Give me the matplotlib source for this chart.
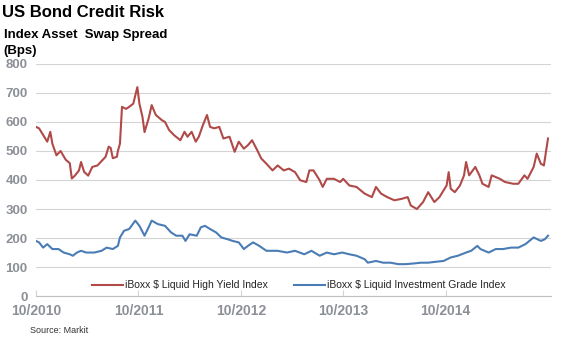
import matplotlib
matplotlib.use('Agg')
import matplotlib.pyplot as plt

plt.rcParams['font.family'] = ['Liberation Sans', 'DejaVu Sans']

# iBoxx $ Liquid High Yield Index, asset swap spread (bps), x in decimal years
hy_year = [2010.75, 2010.78, 2010.82, 2010.86, 2010.89, 2010.91, 2010.95, 2010.99, 2011.04, 2011.08,
           2011.10, 2011.13, 2011.17, 2011.19, 2011.22, 2011.26, 2011.30, 2011.35, 2011.43, 2011.46,
           2011.48, 2011.50, 2011.54, 2011.55, 2011.57, 2011.59, 2011.63, 2011.66, 2011.70, 2011.74,
           2011.76, 2011.79, 2011.81, 2011.85, 2011.88, 2011.92, 2011.98, 2012.01, 2012.05, 2012.10,
           2012.16, 2012.20, 2012.23, 2012.27, 2012.31, 2012.34, 2012.38, 2012.42, 2012.45, 2012.49,
           2012.54, 2012.58, 2012.64, 2012.69, 2012.73, 2012.78, 2012.82, 2012.86, 2012.91, 2012.95,
           2013.00, 2013.06, 2013.11, 2013.17, 2013.22, 2013.28, 2013.33, 2013.39, 2013.42, 2013.46,
           2013.52, 2013.55, 2013.59, 2013.66, 2013.72, 2013.75, 2013.81, 2013.88, 2013.96, 2014.03,
           2014.07, 2014.12, 2014.18, 2014.25, 2014.32, 2014.38, 2014.41, 2014.47, 2014.53, 2014.58,
           2014.64, 2014.69, 2014.73, 2014.76, 2014.78, 2014.80, 2014.84, 2014.89, 2014.93, 2014.95,
           2014.98, 2015.04, 2015.08, 2015.11, 2015.17, 2015.20, 2015.28, 2015.33, 2015.41, 2015.46,
           2015.52, 2015.55, 2015.61, 2015.64, 2015.68, 2015.71, 2015.73, 2015.75]
hy_bps = [583, 578, 555, 532, 566, 525, 485, 500, 470, 458,
          405, 415, 433, 462, 428, 415, 445, 450, 480, 515,
          510, 475, 480, 500, 525, 652, 645, 652, 663, 720,
          663, 617, 565, 612, 658, 624, 606, 600, 572, 554,
          537, 566, 549, 566, 532, 549, 589, 624, 583, 578,
          583, 543, 549, 497, 532, 508, 520, 537, 503, 474,
          456, 433, 450, 433, 439, 427, 399, 393, 433, 433,
          399, 376, 404, 404, 393, 404, 381, 376, 353, 341,
          376, 353, 341, 330, 335, 341, 312, 300, 324, 358,
          324, 341, 364, 381, 427, 370, 358, 381, 416, 462,
          416, 445, 416, 387, 376, 416, 404, 393, 387, 387,
          416, 404, 445, 491, 456, 450, 497, 543]

# iBoxx $ Liquid Investment Grade Index
ig_year = [2010.75, 2010.78, 2010.82, 2010.86, 2010.91, 2010.97, 2011.02, 2011.08, 2011.11, 2011.15,
           2011.19, 2011.24, 2011.32, 2011.39, 2011.44, 2011.50, 2011.55, 2011.57, 2011.61, 2011.66,
           2011.72, 2011.76, 2011.81, 2011.85, 2011.88, 2011.94, 2012.01, 2012.07, 2012.12, 2012.18,
           2012.21, 2012.25, 2012.32, 2012.36, 2012.40, 2012.45, 2012.51, 2012.56, 2012.62, 2012.67,
           2012.73, 2012.78, 2012.82, 2012.87, 2012.93, 2013.00, 2013.11, 2013.20, 2013.28, 2013.37,
           2013.44, 2013.52, 2013.59, 2013.66, 2013.74, 2013.81, 2013.88, 2013.96, 2013.99, 2014.07,
           2014.14, 2014.21, 2014.29, 2014.36, 2014.43, 2014.51, 2014.58, 2014.65, 2014.73, 2014.80,
           2014.87, 2014.95, 2015.00, 2015.06, 2015.09, 2015.17, 2015.24, 2015.31, 2015.39, 2015.46,
           2015.53, 2015.61, 2015.68, 2015.72, 2015.75]
ig_bps = [190, 185, 167, 179, 162, 162, 150, 144, 139, 150,
          156, 150, 150, 156, 167, 162, 173, 202, 225, 231,
          260, 242, 208, 237, 260, 248, 242, 219, 208, 208,
          190, 213, 208, 237, 242, 231, 219, 202, 196, 190,
          185, 162, 173, 185, 173, 156, 156, 150, 156, 144,
          156, 139, 150, 144, 150, 144, 139, 127, 115, 121,
          115, 115, 110, 110, 112, 115, 115, 118, 121, 133,
          139, 150, 156, 173, 162, 150, 162, 162, 167, 167,
          179, 202, 190, 196, 208]

tick_pos = [2010.75, 2011.75, 2012.75, 2013.75, 2014.75]
tick_labels = ['10/2010', '10/2011', '10/2012', '10/2013', '10/2014']

fig = plt.figure(figsize=(5.86, 3.55), dpi=100)
ax = fig.add_axes([0.0614, 0.166, 0.879, 0.654])

ax.plot(hy_year, hy_bps, color='#B04A48', lw=1.5, label='iBoxx $ Liquid High Yield Index')
ax.plot(ig_year, ig_bps, color='#4A7CB5', lw=1.5, label='iBoxx $ Liquid Investment Grade Index')

ax.set_xlim(2010.75, 2015.78)
ax.set_ylim(0, 800)
ax.set_yticks(range(0, 801, 100))
ax.set_xticks(tick_pos)
ax.set_xticklabels(tick_labels)
ax.grid(axis='y', color='#d4d4d4', lw=0.8)
ax.set_axisbelow(True)
for s in ['top', 'right', 'left']:
    ax.spines[s].set_visible(False)
ax.spines['bottom'].set_color('#bfbfbf')
ax.tick_params(axis='y', length=0, pad=6, labelsize=9.5, labelcolor='#8c9096')
ax.tick_params(axis='x', direction='in', length=4, color='#d4d4d4', pad=6,
               labelsize=10, labelcolor='#8c9096')
for lab in ax.get_xticklabels() + ax.get_yticklabels():
    lab.set_fontweight('bold')

leg = ax.legend(loc='lower center', bbox_to_anchor=(0.51, -0.015), ncol=2, frameon=False,
                fontsize=7.5, handlelength=3, columnspacing=2.5, handletextpad=0.2)
for t in leg.get_texts():
    t.set_color('#222222')

fig.text(0.004, 0.953, 'US Bond Credit Risk', fontsize=12, fontweight='bold', va='baseline')
fig.text(0.006, 0.893, 'Index Asset  Swap Spread', fontsize=9.5, fontweight='bold', va='baseline')
fig.text(0.006, 0.848, '(Bps)', fontsize=9.5, fontweight='bold', va='baseline')
fig.text(0.051, 0.063, 'Source: Markit', fontsize=6.5, color='#333333', va='baseline')

fig.savefig('out.png', dpi=100)
